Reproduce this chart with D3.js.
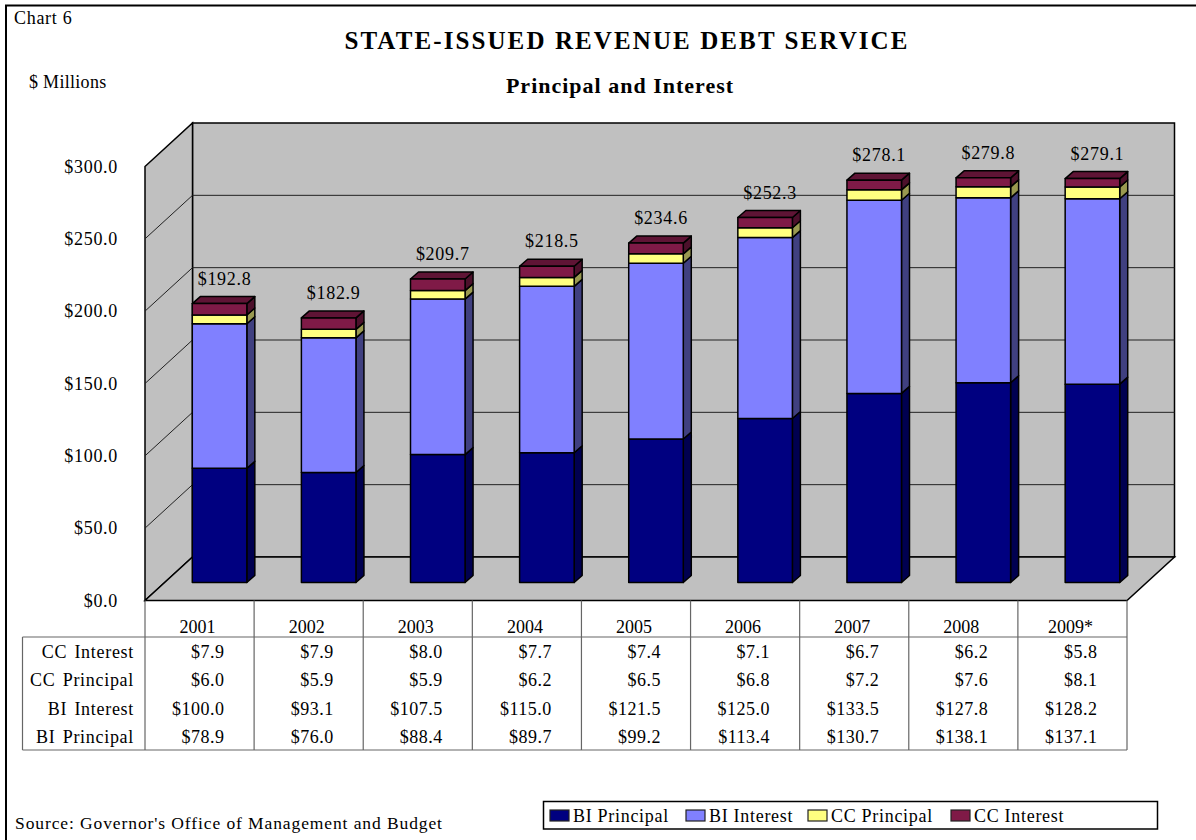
<!DOCTYPE html>
<html>
<head>
<meta charset="utf-8">
<script src="https://d3js.org/d3.v7.min.js"></script>
<style>
  html, body { margin: 0; padding: 0; background: #fff; }
  svg { display: block; }
  text { font-family: "Liberation Serif", serif; fill: #000; }
  .tick text { font-family: "Liberation Serif", serif; font-size: 18px; letter-spacing: 0.7px; }
</style>
</head>
<body>
<svg id="plot" width="1196" height="840"></svg>
<script>
// values
var years = ["2001", "2002", "2003", "2004", "2005", "2006", "2007", "2008", "2009*"];
var biPrincipal = [78.9, 76.0, 88.4, 89.7, 99.2, 113.4, 130.7, 138.1, 137.1];
var biInterest = [100.0, 93.1, 107.5, 115.0, 121.5, 125.0, 133.5, 127.8, 128.2];
var ccPrincipal = [6.0, 5.9, 5.9, 6.2, 6.5, 6.8, 7.2, 7.6, 8.1];
var ccInterest = [7.9, 7.9, 8.0, 7.7, 7.4, 7.1, 6.7, 6.2, 5.8];
var totals = [192.8, 182.9, 209.7, 218.5, 234.6, 252.3, 278.1, 279.8, 279.1];
var yTicks = [0, 50, 100, 150, 200, 250, 300];

var seriesNames = ["BI Principal", "BI Interest", "CC Principal", "CC Interest"];
var seriesValues = [biPrincipal, biInterest, ccPrincipal, ccInterest];
var front = ["#000080", "#8080FF", "#FFFF80", "#7F1A47"];
var side = ["#000050", "#404080", "#999950", "#4C102B"];
var topc = ["#000060", "#6060C0", "#BFBF60", "#5F1435"];

var svg = d3.select("#plot");
var x = d3.scaleBand().domain(years).range([145, 1127]);
var y = d3.scaleLinear().domain([0, 300]).range([600.5, 166.5]);
var dollar = d3.format("$.1f");

// 3d offsets
var wallDx = 47.5, wallDy = -43.5;
var barDx = 20, barDy = -18;
var depthDx = 8, depthDy = -7;
var barWidth = x.bandwidth() / 2;

// page frame, open on the right and bottom
svg.append("path")
  .attr("d", "M6,840V5.5H1196")
  .attr("fill", "none")
  .attr("stroke", "#000")
  .attr("stroke-width", 2);

// walls and floor
var x0 = x.range()[0], x1 = x.range()[1], yb = y(0), yt = y(300);
function poly(pts) { return "M" + pts.map(function (p) { return p.join(","); }).join("L") + "Z"; }

var walls = [
  [[x0 + wallDx, yt + wallDy], [x1 + wallDx, yt + wallDy], [x1 + wallDx, yb + wallDy], [x0 + wallDx, yb + wallDy]],
  [[x0, yt], [x0 + wallDx, yt + wallDy], [x0 + wallDx, yb + wallDy], [x0, yb]],
  [[x0, yb], [x1, yb], [x1 + wallDx, yb + wallDy], [x0 + wallDx, yb + wallDy]]
];
svg.append("g").selectAll("path").data(walls).join("path")
  .attr("d", poly)
  .attr("fill", "#C0C0C0")
  .attr("stroke", "#000")
  .attr("stroke-width", 1.5);

// gridlines
var grid = svg.append("g").attr("stroke", "#222").attr("stroke-width", 1);
yTicks.slice(1, -1).forEach(function (t) {
  grid.append("line")
    .attr("x1", x0 + wallDx).attr("x2", x1 + wallDx)
    .attr("y1", y(t) + wallDy).attr("y2", y(t) + wallDy);
  grid.append("line")
    .attr("x1", x0).attr("x2", x0 + wallDx)
    .attr("y1", y(t)).attr("y2", y(t) + wallDy);
});

// stacked bars
years.forEach(function (yr, i) {
  var left = x(yr) + x.bandwidth() / 4 + barDx;
  var right = left + barWidth;
  var base = 0;
  seriesValues.forEach(function (vals, s) {
    var top = base + vals[i];
    var yTop = y(top) + barDy, yBase = y(base) + barDy;
    var g = svg.append("g").attr("stroke", "#000").attr("stroke-width", 1.5).attr("stroke-linejoin", "round");
    g.append("path")
      .attr("d", poly([[right, yBase], [right + depthDx, yBase + depthDy], [right + depthDx, yTop + depthDy], [right, yTop]]))
      .attr("fill", side[s]);
    if (s == seriesValues.length - 1) {
      g.append("path")
        .attr("d", poly([[left, yTop], [left + depthDx, yTop + depthDy], [right + depthDx, yTop + depthDy], [right, yTop]]))
        .attr("fill", topc[s]);
    }
    g.append("rect")
      .attr("x", left).attr("y", yTop)
      .attr("width", barWidth).attr("height", yBase - yTop)
      .attr("fill", front[s]);
    base = top;
  });
});

// total labels
svg.append("g").selectAll("text").data(totals).join("text")
  .attr("x", function (d, i) { return x(years[i]) + x.bandwidth() / 2 + 25; })
  .attr("y", function (d) { return y(d) + barDy + depthDy - 12; })
  .attr("text-anchor", "middle")
  .attr("font-size", 18)
  .attr("letter-spacing", 0.7)
  .text(dollar);

// value axis
svg.append("g")
  .attr("transform", "translate(" + x0 + ",0)")
  .call(d3.axisLeft(y).tickValues(yTicks).tickFormat(dollar).tickSize(0).tickPadding(27))
  .call(function (g) { g.select(".domain").remove(); });

// data table
var tableTop = 637, tableBottom = 750, tableLeft = 22.5;
var rows = [
  ["CC Interest", ccInterest, 652],
  ["CC Principal", ccPrincipal, 680],
  ["BI Interest", biInterest, 709],
  ["BI Principal", biPrincipal, 737]
];
var lines = svg.append("g").attr("stroke", "#666").attr("stroke-width", 1.2);
lines.append("line").attr("x1", tableLeft).attr("x2", x1).attr("y1", tableTop).attr("y2", tableTop);
lines.append("line").attr("x1", tableLeft).attr("x2", x1).attr("y1", tableBottom).attr("y2", tableBottom);
lines.append("line").attr("x1", tableLeft).attr("x2", tableLeft).attr("y1", tableTop).attr("y2", tableBottom);
years.forEach(function (yr) {
  lines.append("line").attr("x1", x(yr)).attr("x2", x(yr)).attr("y1", yb).attr("y2", tableBottom);
});
lines.append("line").attr("x1", x1).attr("x2", x1).attr("y1", yb).attr("y2", tableBottom);

svg.append("g").selectAll("text").data(years).join("text")
  .attr("x", function (d) { return x(d) + x.bandwidth() / 2 - 2; })
  .attr("y", 633)
  .attr("text-anchor", "middle")
  .attr("font-size", 18)
  .text(function (d) { return d; });

rows.forEach(function (r) {
  svg.append("text")
    .attr("x", 134).attr("y", r[2] + 6)
    .attr("text-anchor", "end")
    .attr("font-size", 18)
    .attr("word-spacing", 2)
    .attr("letter-spacing", 0.7)
    .text(r[0]);
  svg.append("g").selectAll("text").data(r[1]).join("text")
    .attr("x", function (d, i) { return x(years[i]) + x.bandwidth() / 2 + 25; })
    .attr("y", r[2] + 6)
    .attr("text-anchor", "end")
    .attr("font-size", 18)
    .attr("letter-spacing", 0.5)
    .text(dollar);
});

// titles
svg.append("text").attr("x", 627).attr("y", 49).attr("text-anchor", "middle")
  .attr("font-size", 25).attr("font-weight", "bold").attr("letter-spacing", 2.1)
  .text("STATE-ISSUED REVENUE DEBT SERVICE");
svg.append("text").attr("x", 620).attr("y", 93).attr("text-anchor", "middle")
  .attr("font-size", 22).attr("font-weight", "bold").attr("letter-spacing", 1)
  .text("Principal and Interest");
svg.append("text").attr("x", 14).attr("y", 24).attr("font-size", 18).attr("letter-spacing", 0.7).text("Chart 6");
svg.append("text").attr("x", 29).attr("y", 88).attr("font-size", 18).attr("letter-spacing", 0.3).text("$ Millions");
svg.append("text").attr("x", 15).attr("y", 829).attr("font-size", 17.5).attr("letter-spacing", 0.9)
  .text("Source: Governor's Office of Management and Budget");

// legend
var legendX = [550, 686, 808, 951];
svg.append("rect")
  .attr("x", 543.5).attr("y", 801.5).attr("width", 614).attr("height", 27.5)
  .attr("fill", "#fff").attr("stroke", "#000").attr("stroke-width", 1.5);
seriesNames.forEach(function (name, s) {
  svg.append("rect")
    .attr("x", legendX[s]).attr("y", 810).attr("width", 19).attr("height", 11)
    .attr("fill", front[s]).attr("stroke", "#222").attr("stroke-width", 1.2);
  svg.append("text")
    .attr("x", legendX[s] + 23).attr("y", 822)
    .attr("font-size", 18)
    .attr("letter-spacing", 0.7)
    .text(name);
});
</script>
</body>
</html>
